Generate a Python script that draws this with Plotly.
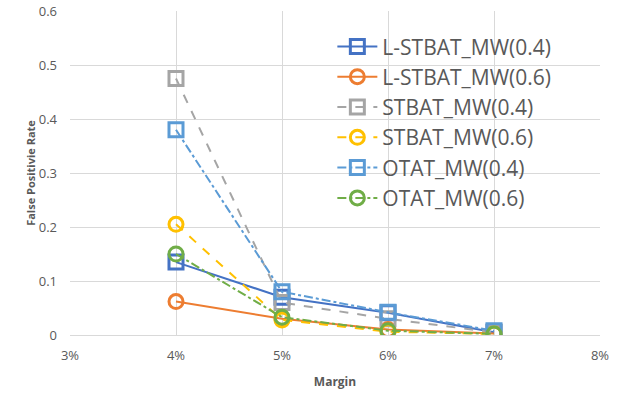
import plotly.graph_objects as go

margins = [0.04, 0.05, 0.06, 0.07]
l_stbat_04 = [0.135, 0.070, 0.041, 0.005]
l_stbat_06 = [0.062, 0.030, 0.010, 0.003]
stbat_04 = [0.475, 0.060, 0.030, 0.005]
stbat_06 = [0.205, 0.028, 0.006, 0.002]
otat_04 = [0.380, 0.080, 0.042, 0.008]
otat_06 = [0.150, 0.033, 0.008, 0.002]
y_ticks = [0, 0.1, 0.2, 0.3, 0.4, 0.5, 0.6]
y_tick_labels = ["0", "0.1", "0.2", "0.3", "0.4", "0.5", "0.6"]

series = [
    ("L-STBAT_MW(0.4)", l_stbat_04, "#4472C4", "solid", "square-open"),
    ("L-STBAT_MW(0.6)", l_stbat_06, "#ED7D31", "solid", "circle-open"),
    ("STBAT_MW(0.4)", stbat_04, "#A5A5A5", "dash", "square-open"),
    ("STBAT_MW(0.6)", stbat_06, "#FFC000", "dash", "circle-open"),
    ("OTAT_MW(0.4)", otat_04, "#5B9BD5", "dashdot", "square-open"),
    ("OTAT_MW(0.6)", otat_06, "#70AD47", "dashdot", "circle-open"),
]

fig = go.Figure()
for name, vals, color, dash, sym in series:
    fig.add_trace(go.Scatter(
        x=margins, y=vals, name=name, mode="lines+markers",
        line=dict(color=color, width=2, dash=dash),
        marker=dict(symbol=sym, size=14, color=color, line=dict(width=3, color=color)),
    ))

fig.update_layout(
    width=627, height=396,
    margin=dict(l=70, r=27, t=11, b=61, autoexpand=False),
    plot_bgcolor="white", paper_bgcolor="white",
    font=dict(family="Open Sans, Arial, sans-serif", color="#595959", size=12),
    legend=dict(x=0.495, y=0.953, xanchor="left", yanchor="top",
                font=dict(size=21, color="#595959"), bgcolor="rgba(255,255,255,0)",
                tracegroupgap=0, itemwidth=40),
    showlegend=True,
)
fig.update_xaxes(range=[0.03, 0.08], dtick=0.01, tick0=0.03, tickformat=".0%",
                 automargin=False,
                 showgrid=True, gridcolor="#D9D9D9", gridwidth=1,
                 showline=True, linecolor="#D9D9D9", zeroline=False,
                 ticks="", ticklabelstandoff=8, tickfont=dict(size=13, color="#595959"),
                 title=dict(text="<b>Margin</b>", font=dict(size=12, color="#595959"), standoff=15))
fig.update_yaxes(range=[0, 0.6], tickmode="array", tickvals=y_ticks, ticktext=y_tick_labels,
                 automargin=False,
                 showgrid=True, gridcolor="#D9D9D9", gridwidth=1,
                 showline=False, zeroline=False, ticks="", ticklabelstandoff=12,
                 tickfont=dict(size=13, color="#595959"),
                 title=dict(text="<b>False Positivie Rate</b>", font=dict(size=11, color="#595959"), standoff=0))

fig.write_html("out.html", config={"displayModeBar": False},
               post_script="document.body.style.margin='0';")
